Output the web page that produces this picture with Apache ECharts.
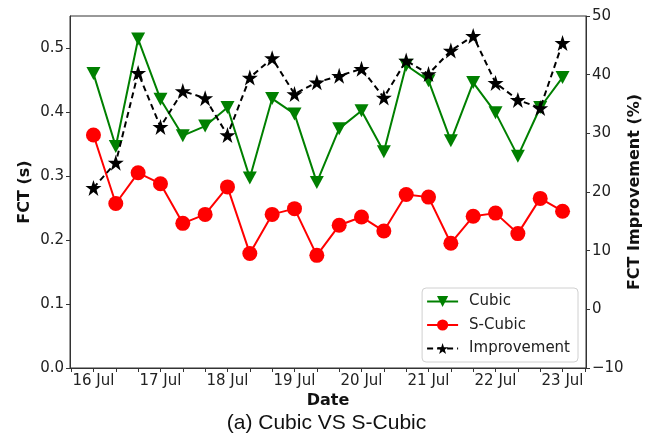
<!DOCTYPE html>
<html>
<head>
<meta charset="utf-8">
<script src="https://cdn.jsdelivr.net/npm/echarts@6/dist/echarts.min.js"></script>
<style>
html,body{margin:0;padding:0;background:#fff;}
#chart{width:653px;height:435px;}
</style>
</head>
<body>
<div id="chart"></div>
<script>
// Sample slots: every 8 hours from 16 Jul 00:00 to 23 Jul 00:00 (index 0..21)
const dayLabels = ['16 Jul','17 Jul','18 Jul','19 Jul','20 Jul','21 Jul','22 Jul','23 Jul'];
const labelSlots = [0,3,6,9,12,15,18,21];
const tickSlots = [-1,0,1,2,3,4,5,6,7,8,9,10,11,12,13,14,15,16,17,18,19,20,21,22];
const slots = [0,1,2,3,4,5,6,7,8,9,10,11,12,13,14,15,16,17,18,19,20,21];

const cubic = [0.460,0.346,0.514,0.420,0.363,0.378,0.407,0.297,0.421,0.397,0.290,
               0.374,0.402,0.338,0.473,0.449,0.355,0.446,0.399,0.331,0.407,0.454];
const sCubic = [0.364,0.257,0.305,0.288,0.226,0.240,0.283,0.179,0.240,0.249,0.176,
                0.223,0.236,0.214,0.271,0.267,0.195,0.237,0.242,0.210,0.265,0.245];
const improvement = [20.7,25.0,40.3,31.1,37.2,36.0,29.7,39.5,42.8,36.7,38.7,
                     39.8,41.0,36.1,42.4,40.1,44.1,46.6,38.6,35.7,34.3,45.4];

const leftTicks = [0,0.1,0.2,0.3,0.4,0.5];
const rightTicks = [-10,0,10,20,30,40,50];

const starPath = 'path://M50,0 L61.8,35.1 L98.9,35.1 L69.1,56.7 L80.2,91.9 L50,70 L19.8,91.9 L30.9,56.7 L1.1,35.1 L38.2,35.1 Z';
const triDownPath = 'path://M0,0 L100,0 L50,100 Z';

const pair = (arr) => slots.map((s, i) => [s, arr[i]]);

const axisFont = {fontFamily: 'DejaVu Sans', fontSize: 15, color: '#222'};
const nameFont = {fontFamily: 'DejaVu Sans', fontSize: 16, fontWeight: 'bold', color: '#111'};
const axisLine = {show: true, onZero: false, lineStyle: {color: '#333', width: 1}};
const axisTick = {show: true, inside: false, length: 4, lineStyle: {color: '#333', width: 1}};

const chart = echarts.init(document.getElementById('chart'), null, {renderer: 'canvas'});
chart.setOption({
  animation: false,
  backgroundColor: '#fff',
  title: {
    text: '(a) Cubic VS S-Cubic',
    left: 'center',
    top: 408,
    textStyle: {fontFamily: 'Liberation Sans', fontSize: 21, fontWeight: 'normal', color: '#111'}
  },
  grid: {left: 70, right: 67, top: 16, bottom: 67, show: true, borderColor: '#333', borderWidth: 1, backgroundColor: 'transparent'},
  legend: {
    right: 75, top: 288,
    orient: 'vertical',
    itemWidth: 31, itemHeight: 14, itemGap: 8.5,
    padding: [6, 8, 6, 4],
    borderColor: '#d0d0d0', borderWidth: 1, borderRadius: 4,
    backgroundColor: 'rgba(255,255,255,0.8)',
    textStyle: {fontFamily: 'DejaVu Sans', fontSize: 15, color: '#222', padding: [0, 0, 0, 6]},
    data: ['Cubic', 'S-Cubic', 'Improvement']
  },
  xAxis: {
    type: 'value',
    min: -1.05, max: 22.05,
    name: 'Date', nameLocation: 'middle', nameGap: 25, nameMoveOverlap: false,
    nameTextStyle: nameFont,
    axisLine: axisLine,
    axisTick: Object.assign({customValues: tickSlots}, axisTick),
    axisLabel: Object.assign({customValues: labelSlots, margin: 6,
      formatter: (v) => dayLabels[labelSlots.indexOf(Math.round(v))] || ''}, axisFont),
    splitLine: {show: false}
  },
  yAxis: [{
    type: 'value', position: 'left',
    min: 0, max: 0.55,
    name: 'FCT (s)', nameLocation: 'middle', nameGap: 37, nameMoveOverlap: false,
    nameTextStyle: nameFont,
    axisLine: axisLine,
    axisTick: Object.assign({customValues: leftTicks}, axisTick),
    axisLabel: Object.assign({customValues: leftTicks, margin: 6, formatter: (v) => v.toFixed(1)}, axisFont),
    splitLine: {show: false}
  }, {
    type: 'value', position: 'right',
    min: -10, max: 50,
    name: 'FCT Improvement (%)', nameLocation: 'middle', nameGap: 41, nameRotate: 90, nameMoveOverlap: false,
    nameTextStyle: nameFont,
    axisLine: axisLine,
    axisTick: Object.assign({customValues: rightTicks}, axisTick),
    axisLabel: Object.assign({customValues: rightTicks, margin: 6,
      formatter: (v) => v < 0 ? '\u2212' + Math.abs(v) : String(v)}, axisFont),
    splitLine: {show: false}
  }],
  series: [{
    name: 'Cubic', type: 'line', yAxisIndex: 0,
    data: pair(cubic),
    symbol: triDownPath, symbolSize: [14, 13],
    lineStyle: {color: '#008000', width: 2},
    itemStyle: {color: '#008000'},
    z: 2
  }, {
    name: 'S-Cubic', type: 'line', yAxisIndex: 0,
    data: pair(sCubic),
    symbol: 'circle', symbolSize: 15,
    lineStyle: {color: '#ff0000', width: 2},
    itemStyle: {color: '#ff0000'},
    z: 3
  }, {
    name: 'Improvement', type: 'line', yAxisIndex: 1,
    data: pair(improvement),
    symbol: starPath, symbolSize: [16, 16],
    lineStyle: {color: '#000', width: 2, type: [6, 4]},
    itemStyle: {color: '#000'},
    z: 4
  }]
});
</script>
</body>
</html>
